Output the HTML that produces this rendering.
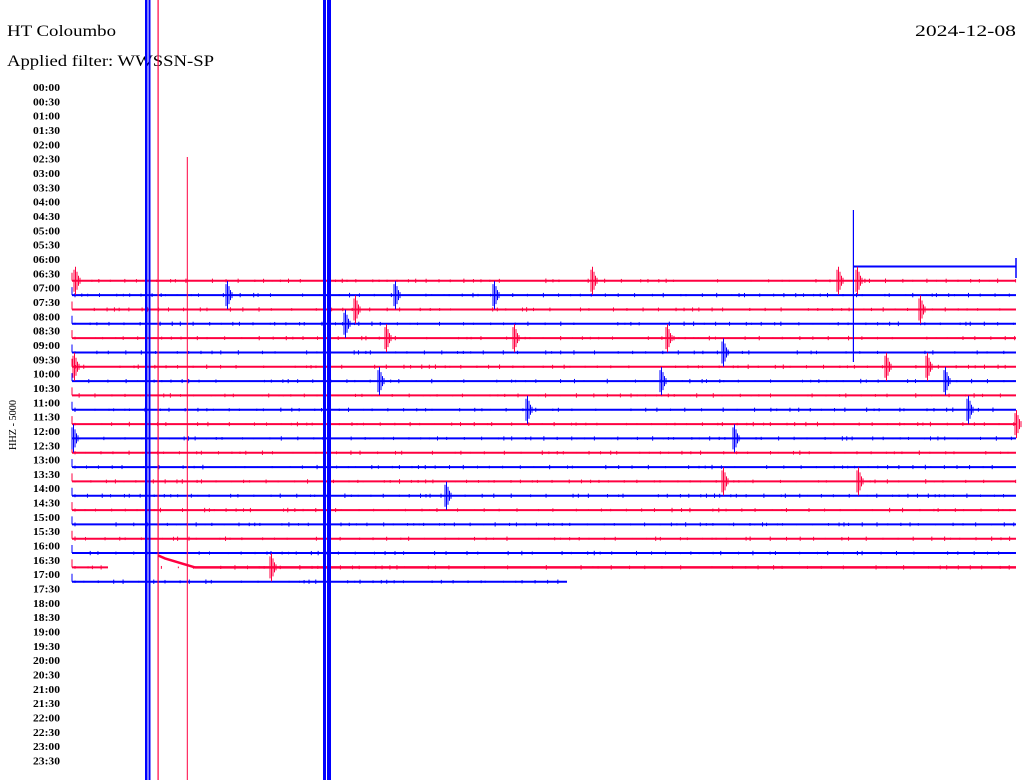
<!DOCTYPE html>
<html><head><meta charset="utf-8"><style>
html,body{margin:0;padding:0;background:#fff;width:1024px;height:780px;overflow:hidden}
svg{display:block}
</style></head><body>
<svg id="s" width="1024" height="780" xmlns="http://www.w3.org/2000/svg">
<text x="7" y="36" font-family="Liberation Serif, serif" font-size="16" textLength="109" lengthAdjust="spacingAndGlyphs">HT Coloumbo</text>
<text x="915" y="36" font-family="Liberation Serif, serif" font-size="16" textLength="101" lengthAdjust="spacingAndGlyphs">2024-12-08</text>
<text x="7" y="66" font-family="Liberation Serif, serif" font-size="16" textLength="207" lengthAdjust="spacingAndGlyphs">Applied filter: WWSSN-SP</text>
<text transform="translate(16,425) rotate(-90)" text-anchor="middle" font-family="Liberation Serif, serif" font-size="10" textLength="50" lengthAdjust="spacingAndGlyphs">HHZ - 5000</text>
<g id="lab" font-family="Liberation Serif, serif" font-size="11" font-weight="bold"></g>
<g id="tr"></g>
</svg>
<script>
var s=document.getElementById('tr'),L=document.getElementById('lab'),NS='http://www.w3.org/2000/svg';
function el(t,a,p){var e=document.createElementNS(NS,t);for(var k in a)e.setAttribute(k,a[k]);(p||s).appendChild(e);return e;}
var R='#ff0040',B='#0000ff';
for(var k=0;k<48;k++){var h=Math.floor(k/2),m=k%2?'30':'00';
 var t=el('text',{x:33,y:(87+14.33*k+4).toFixed(1),textLength:27,lengthAdjust:'spacingAndGlyphs'},L);t.textContent=(h<10?'0':'')+h+':'+m;}
function ty(k){return 87+14.33*k+7.5;}
el('line',{x1:853,y1:266.5,x2:1016,y2:266.5,stroke:B,'stroke-width':2});
el('line',{x1:1016,y1:258,x2:1016,y2:278,stroke:B,'stroke-width':1.5});
var seed=7;function rnd(){seed=(seed*16807)%2147483647;return seed/2147483647;}
for(var k=13;k<=34;k++){var y=ty(k),c=(k%2)?R:B;
 var x2=(k==34)?567:1016;
 if(k==33){el('line',{x1:72,y1:y,x2:108,y2:y,stroke:c,'stroke-width':2});
  el('polyline',{points:'158,'+(y-12)+' 165,'+(y-9)+' 175,'+(y-6)+' 185,'+(y-3)+' 195,'+(y)+' 1016,'+y,fill:'none',stroke:c,'stroke-width':2.5});}
 else {el('line',{x1:72,y1:y,x2:x2,y2:y,stroke:c,'stroke-width':2});}
 el('line',{x1:72,y1:y-8,x2:72,y2:y,stroke:c,'stroke-width':1});
 for(var x=75;x<x2;x+=4+rnd()*14){if(k==33&&x>106&&x<160)continue;var a=0.5+rnd()*1.8;el('line',{x1:x,y1:y-a,x2:x,y2:y+a,stroke:c,'stroke-width':1});}
}
var ev=[[13,74],[13,591],[13,837],[13,856],[14,226],[14,394],[14,493],[15,354],[15,919],[16,344],[17,385],[17,513],[17,666],[18,722],[19,73],[19,885],[19,926],[20,378],[20,660],[20,944],[22,526],[22,967],[23,1015],[24,72],[24,733],[27,722],[27,857],[28,445],[33,270]];
ev.forEach(function(e){var y=ty(e[0]),c=(e[0]%2)?R:B,x=e[1];
 [[0,11],[1.5,14],[3,9],[4.5,5],[6,3]].forEach(function(p){el('line',{x1:x+p[0],y1:y-p[1],x2:x+p[0],y2:y+p[1],stroke:c,'stroke-width':1});});});
el('rect',{x:145,y:0,width:2.5,height:780,fill:B});
el('rect',{x:148.5,y:0,width:2,height:780,fill:B});
el('rect',{x:157.5,y:0,width:1.2,height:780,fill:R});
el('rect',{x:186.8,y:157,width:1,height:623,fill:R});
el('rect',{x:323,y:0,width:3,height:780,fill:B});
el('rect',{x:327,y:0,width:4,height:780,fill:B});
el('rect',{x:852.8,y:210,width:1.2,height:152,fill:B});
</script>
</body></html>
